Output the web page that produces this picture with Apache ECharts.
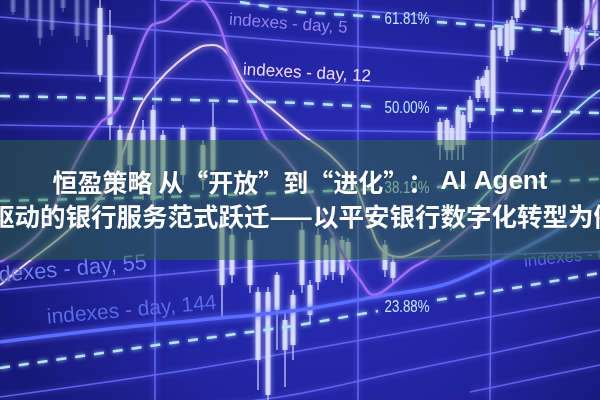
<!DOCTYPE html>
<html><head><meta charset="utf-8">
<script src="https://cdn.jsdelivr.net/npm/echarts@6/dist/echarts.min.js"></script>
<style>html,body{margin:0;padding:0;background:#1c1e8e;overflow:hidden}#c{width:600px;height:400px}</style>
</head><body><div id="c"></div>
<script>
// ---- text ----
const titleLine1 = ['恒盈策略 从“开放”到“进化”：', ' AI Agent'];
const titleLine2 = '驱动的银行服务范式跃迁——以平安银行数字化转型为例';
const fibLabels = ['61.81%', '50.00%', '38.19%', '23.88%'];
const fibLabelAt = [[407, 19], [407, 108], [407, 188], [407, 307]];
const seriesLabels = ['indexes - day, 5', 'indexes - day, 12', 'indexes - day, 55', 'indexes - day, 144', 'indexes - day, 20'];
const seriesLabelAt = [[229, 20], [243, 70], [147, 263], [47, 318], [524, 262]];

// ---- fibonacci levels (left part, right part of each dashed level) ----
const fib618L = [[240, 2], [300, 12], [380, 17]];
const fib618R = [[437, 22], [520, 28], [600, 35]];
const fib500L = [[0, 96], [150, 99], [300, 103], [378, 107]];
const fib500R = [[437, 108], [600, 113]];
const fib382L = [[0, 201], [200, 196], [378, 189]];
const fib382R = [[437, 187], [600, 179]];
const fib239L = [[0, 368], [150, 346], [300, 325], [378, 311]];
const fib239R = [[437, 300], [520, 287], [600, 273]];

// ---- grid lines of the screen ----
const gridLines = [
  [[160, 0], [380, 12], [600, 32]],
  [[0, 17], [300, 42], [600, 65]],
  [[0, 73], [300, 83], [600, 98]],
  [[0, 125], [300, 130], [600, 134]],
  [[0, 290], [150, 276], [300, 263], [450, 256], [600, 252]],
  [[0, 397], [200, 368], [400, 333], [600, 297]],
  [[150, 410], [280, 397], [400, 372], [493, 353], [600, 330]],
  [[470, 392], [600, 365]],
  [[155, 0], [155, 400]],
  [[358, 0], [358, 400]],
  [[493, 0], [490, 400]]
];

// ---- moving averages ----
const ma5 = [[0,262],[20,250],[42,230],[60,195],[77,160],[100,123],[117,110],[133,67],[150,27],[167,20],[183,7],[198,-2],[217,20],[233,67],[253,110],[267,140],[283,155],[305,185],[325,220],[345,258],[360,280],[373,295],[382,292],[395,282],[412,268],[430,258],[460,235],[500,200],[530,160],[545,125],[557,87],[567,65],[580,35],[597,0]];
const ma12 = [[0,285],[27,263],[57,240],[85,215],[105,190],[120,160],[140,107],[157,83],[177,63],[200,47],[213,45],[227,53],[247,87],[273,110],[300,133],[330,155],[355,185],[370,225],[382,250],[400,257],[420,250],[440,240]];
const ma20 = [[450,230],[490,190],[513,160],[553,130],[587,100],[600,90]];
const ma34 = [[505,200],[530,150],[553,110],[567,83],[583,53],[600,37]];
const ma144 = [[0,342],[100,330],[200,320],[300,310],[380,296],[443,285],[490,265],[540,240],[580,215],[600,200]];

// ---- candles: [day, open, close, high, low] ----
const candlesFaint = [[13,0,12,-5,15],[27,0,18,-5,22],[40,0,38,-5,45],[52,0,30,-5,36],[63,0,8,-5,12],[77,0,36,-5,43],[87,0,40,-5,47]];
const candles = [
  [100,8,75,-2,82],[110,35,125,10,140],
  [120,130,175,125,185],[130,133,165,130,175],[143,130,185,120,200],[153,110,200,105,210],[163,135,190,130,200],[183,128,175,125,185],[203,145,180,140,190],[213,127,170,103,180],
  [222,225,285,215,317],[232,235,275,228,283],[250,240,285,232,293],[258,292,360,287,390],[268,292,395,287,400],[277,275,310,272,350],[285,320,350,313,387],[293,295,345,290,360],
  [302,230,285,222,293],[310,285,315,280,323],[318,235,282,228,290],[326,245,275,240,280],[333,238,272,232,280],[342,240,275,236,283],[348,242,262,238,270],[385,245,270,240,277],[393,262,278,257,283],
  [440,122,145,118,160],[447,120,150,118,160],[452,128,150,125,160],[458,110,145,105,160],[463,115,145,112,160],[470,100,122,96,128],[478,80,98,76,102],[483,78,86,76,90],[487,70,98,66,102],[493,30,115,26,122],
  [500,28,46,26,50],[507,24,56,20,62],[512,20,50,16,55],[517,0,18,-5,22],[523,-5,10,-5,12],
  [560,0,30,-5,35],[567,28,52,26,56],[572,30,70,27,75],[577,32,48,30,52],[582,28,65,26,70],[587,0,25,-5,28],[595,0,30,-5,40]
];

const chart = echarts.init(document.getElementById('c'));

function lineSeries(data, color, width, extra) {
  return Object.assign({
    type: 'line', data: data, showSymbol: false, silent: true, smooth: 0.35,
    lineStyle: { color: color, width: width, shadowBlur: 6, shadowColor: color }, z: 3
  }, extra || {});
}
function candleSeries(data, fill, stroke) {
  return {
    type: 'custom', data: data, z: 2, silent: true,
    renderItem: function (params, api) {
      const x = api.value(0);
      const o = api.coord([x, api.value(1)]);
      const c = api.coord([x, api.value(2)]);
      const h = api.coord([x, api.value(3)]);
      const l = api.coord([x, api.value(4)]);
      const w = 5;
      return { type: 'group', children: [
        { type: 'line', shape: { x1: h[0], y1: h[1], x2: l[0], y2: l[1] }, style: { stroke: stroke, lineWidth: 1.5 } },
        { type: 'rect', shape: { x: o[0] - w / 2, y: Math.min(o[1], c[1]), width: w, height: Math.abs(c[1] - o[1]) },
          style: { fill: fill, shadowBlur: 5, shadowColor: stroke } }
      ]};
    }
  };
}

const fibColor = '#b8e4f8';
const fibDash = { type: 'line', showSymbol: false, silent: true, z: 4,
  lineStyle: { color: fibColor, width: 2.5, type: [10, 9], shadowBlur: 4, shadowColor: '#9fd8ff' } };

const series = [];
gridLines.forEach(d => series.push(lineSeries(d, 'rgba(108,108,252,0.85)', 1.6, { z: 1 })));
series.push(candleSeries(candlesFaint, 'rgba(175,185,240,0.35)', 'rgba(175,185,240,0.35)'));
series.push(candleSeries(candles, 'rgba(222,226,255,0.88)', 'rgba(200,208,255,0.85)'));
[fib618L, fib618R, fib500L, fib500R, fib382L, fib382R, fib239L, fib239R].forEach(d =>
  series.push(Object.assign({}, fibDash, { data: d })));
series.push(lineSeries(ma144, '#5b6cff', 3.5));
series.push(lineSeries(ma12, '#efd3f6', 2));
series.push(lineSeries(ma5, '#9c6df3', 2.5));
series.push(lineSeries(ma20, '#a2d8f5', 2));
series.push(lineSeries(ma34, '#b49af5', 1.8));

chart.setOption({
  animation: false,
  grid: { left: 0, right: 0, top: 0, bottom: 0 },
  xAxis: { type: 'value', min: 0, max: 600, show: false },
  yAxis: { type: 'value', min: 0, max: 400, inverse: true, show: false },
  series: series
});

const px = p => chart.convertToPixel({ gridIndex: 0 }, p);
const graphics = [
  { type: 'rect', z: -10, shape: { x: 0, y: 0, width: 600, height: 400 },
    style: { fill: new echarts.graphic.RadialGradient(0.55, 0.55, 0.85, [
      { offset: 0, color: '#2a2db8' }, { offset: 0.6, color: '#2124a0' }, { offset: 1, color: '#17187a' }]) } }
];
const fibFont = '17px "Liberation Sans", Arial, sans-serif';
fibLabels.forEach((t, i) => {
  const p = px(fibLabelAt[i]);
  graphics.push({ type: 'text', z: 5, x: p[0], y: p[1], scaleX: 0.78,
    style: { text: t, fill: '#c0e8fb', font: fibFont, align: 'center', verticalAlign: 'middle', shadowBlur: 4, shadowColor: '#8fd0ff' } });
});
const lblStyle = [
  { color: '#9283ee', size: 17, align: 'left', rot: -4 },
  { color: '#f2d9f7', size: 17, align: 'left', rot: -3 },
  { color: '#6f7ff0', size: 22, align: 'right', rot: 5 },
  { color: '#5a6ae6', size: 21, align: 'left', rot: 5 },
  { color: '#5a6ae6', size: 17, align: 'left', rot: 6 }
];
seriesLabels.forEach((t, i) => {
  const p = px(seriesLabelAt[i]);
  const s = lblStyle[i];
  graphics.push({ type: 'text', z: 5, x: p[0], y: p[1], rotation: s.rot * Math.PI / 180,
    style: { text: t, fill: s.color, font: s.size + 'px "Liberation Sans", Arial, sans-serif', align: s.align, verticalAlign: 'middle' } });
});
graphics.push({ type: 'rect', z: 50, shape: { x: 0, y: 140, width: 600, height: 120 },
  style: { fill: 'rgba(44,106,52,0.5)' } });
const cjkFont = '"Noto Sans CJK SC", sans-serif';
graphics.push({ type: 'text', z: 60, x: 300, y: 182,
  style: { text: '{c|' + titleLine1[0] + '}{l|' + titleLine1[1] + '}', align: 'center', verticalAlign: 'middle',
    rich: {
      c: { fill: '#fff', fontSize: 25, fontWeight: 'bold', fontFamily: cjkFont, textShadowBlur: 2, textShadowColor: 'rgba(0,0,0,0.3)' },
      l: { fill: '#fff', fontSize: 26, fontWeight: 'bold', fontFamily: '"Liberation Sans", Arial, sans-serif', textShadowBlur: 2, textShadowColor: 'rgba(0,0,0,0.3)' }
    } } });
graphics.push({ type: 'text', z: 60, x: 304, y: 216,
  style: { text: titleLine2, fill: '#ffffff', font: 'bold 25.5px ' + cjkFont, align: 'center', verticalAlign: 'middle',
    shadowBlur: 2, shadowColor: 'rgba(0,0,0,0.3)' } });
chart.setOption({ graphic: { elements: graphics } });
</script>
</body></html>
